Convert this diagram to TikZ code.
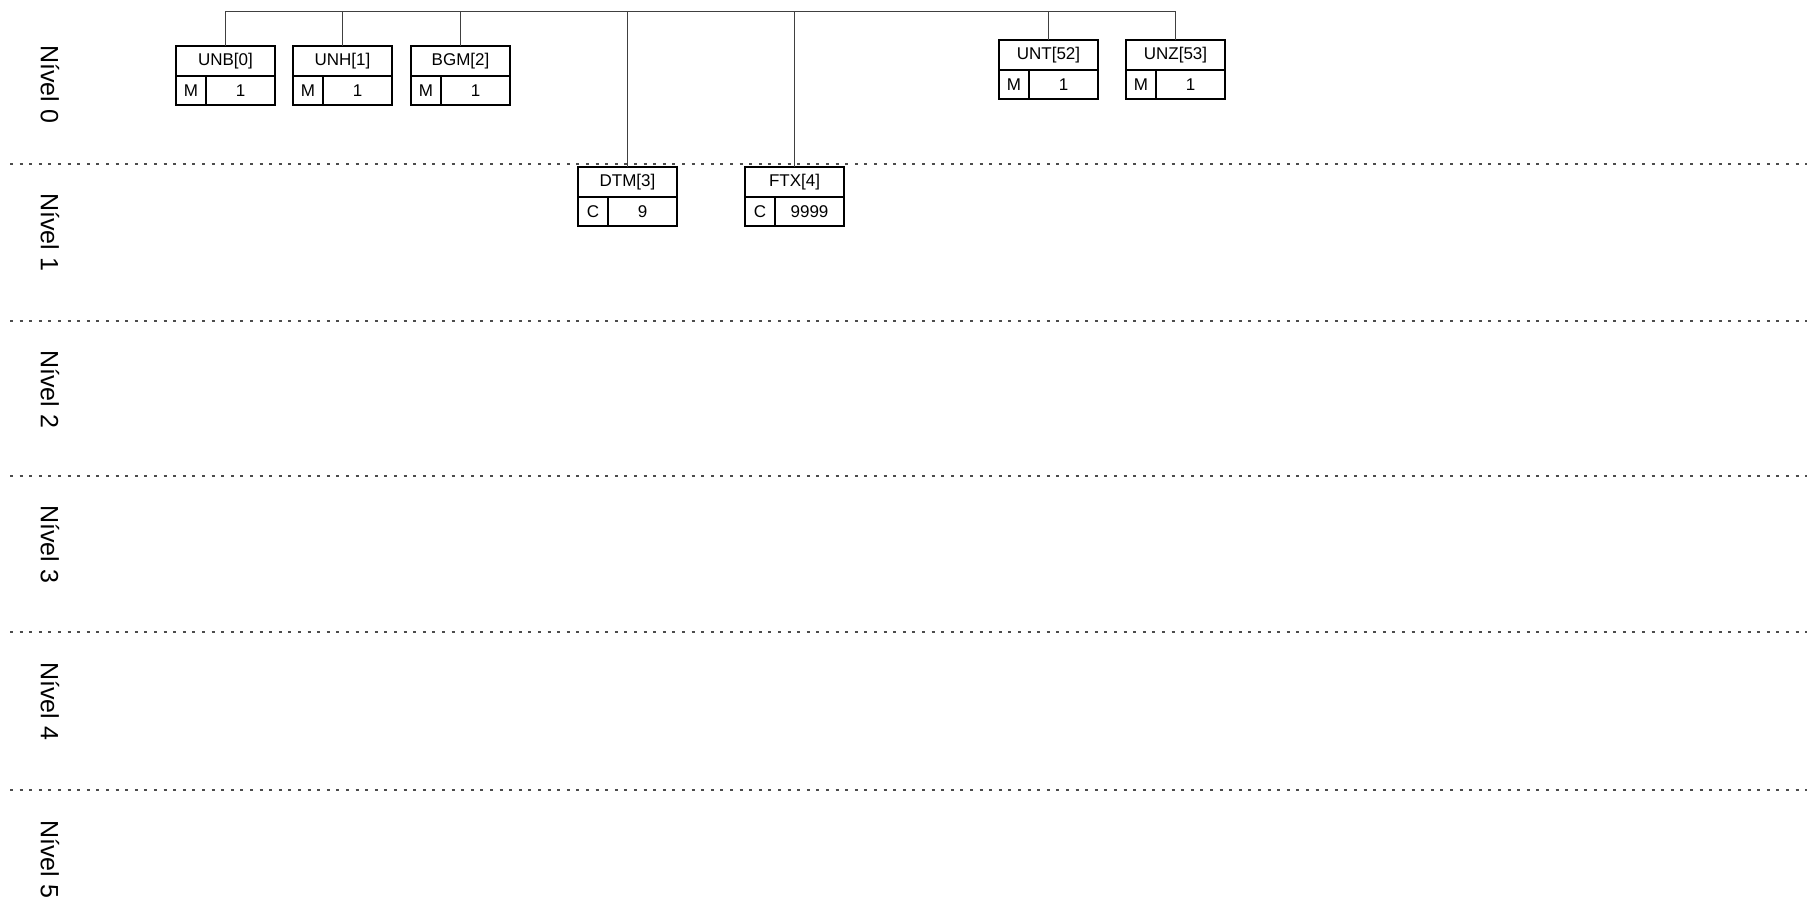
\documentclass[tikz,border=0pt]{standalone}
\usepackage{fontspec}
\setmainfont{Liberation Sans}
\usetikzlibrary{positioning}

\tikzset{
	seg/.style={draw, line width=1.3pt, minimum width=99pt, minimum height=30pt, inner sep=0pt, outer sep=0pt, font=\fontsize{17}{20}\selectfont},
	stat/.style={seg, minimum width=30pt, minimum height=29pt},
	rep/.style={seg, minimum width=69pt, minimum height=29pt},
	link/.style={draw=black!75, line width=1pt},
	levelline/.style={draw=black!70, line width=2pt, dash pattern=on 3pt off 6.6pt},
	levelname/.style={rotate=-90, anchor=west, inner sep=0pt, font=\fontsize{25}{30}\selectfont}
}

\begin{document}
\begin{tikzpicture}[x=1pt,y=-1pt]

	\useasboundingbox (0,0) rectangle (1807,900);

	\draw[levelline] (10,163.7) -- (1807,163.7);
	\draw[levelline] (10,321) -- (1807,321);
	\draw[levelline] (10,476) -- (1807,476);
	\draw[levelline] (10,632) -- (1807,632);
	\draw[levelline] (10,790) -- (1807,790);

	\node[levelname] (n0) at (50,45) {Nível 0};
	\node[levelname] (n1) at (50,193) {Nível 1};
	\node[levelname] (n2) at (50,350) {Nível 2};
	\node[levelname] (n3) at (50,505) {Nível 3};
	\node[levelname] (n4) at (50,662) {Nível 4};
	\node[levelname] (n5) at (50,820) {Nível 5};

	\node[seg, anchor=north west] (unb) at (176,46) {UNB[0]};
	\node[stat, below right=0pt and 0pt of unb.south west] (unbs) {M};
	\node[rep, right=0pt of unbs] (unbr) {1};

	\node[seg, right=18pt of unb] (unh) {UNH[1]};
	\node[stat, below right=0pt and 0pt of unh.south west] (unhs) {M};
	\node[rep, right=0pt of unhs] (unhr) {1};

	\node[seg, right=19pt of unh] (bgm) {BGM[2]};
	\node[stat, below right=0pt and 0pt of bgm.south west] (bgms) {M};
	\node[rep, right=0pt of bgms] (bgmr) {1};

	\node[seg, anchor=north west] (dtm) at (578,167) {DTM[3]};
	\node[stat, below right=0pt and 0pt of dtm.south west] (dtms) {C};
	\node[rep, right=0pt of dtms] (dtmr) {9};

	\node[seg, right=68pt of dtm] (ftx) {FTX[4]};
	\node[stat, below right=0pt and 0pt of ftx.south west] (ftxs) {C};
	\node[rep, right=0pt of ftxs] (ftxr) {9999};

	\node[seg, anchor=north west] (unt) at (999,40) {UNT[52]};
	\node[stat, below right=0pt and 0pt of unt.south west] (unts) {M};
	\node[rep, right=0pt of unts] (untr) {1};

	\node[seg, right=28pt of unt] (unz) {UNZ[53]};
	\node[stat, below right=0pt and 0pt of unz.south west] (unzs) {M};
	\node[rep, right=0pt of unzs] (unzr) {1};

	\coordinate (bus) at (0,11);

	\draw[link] (unb.north) |- (bus -| unz.north) -- (unz.north);
	\draw[link] (unh.north) -- (unh.north |- bus);
	\draw[link] (bgm.north) -- (bgm.north |- bus);
	\draw[link] (dtm.north) -- (dtm.north |- bus);
	\draw[link] (ftx.north) -- (ftx.north |- bus);
	\draw[link] (unt.north) -- (unt.north |- bus);

\end{tikzpicture}
\end{document}
